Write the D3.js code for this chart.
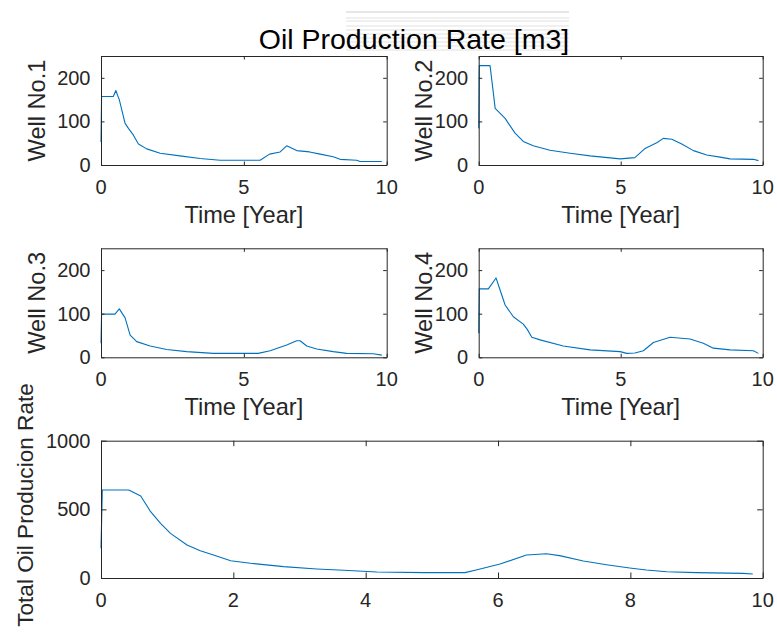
<!DOCTYPE html>
<html>
<head>
<meta charset="utf-8">
<script src="https://cdn.jsdelivr.net/npm/d3@7"></script>
<style>
  html, body { margin: 0; padding: 0; background: #fff; }
  svg { display: block; font-family: "Liberation Sans", Arial, Helvetica, sans-serif; }
</style>
</head>
<body>
<svg id="chart" width="777" height="633"></svg>
<script>
// Oil production rate per well, [time in years, rate in m3]
const well1 = [[0,53],[0.02,157],[0.43,157],[0.52,171],[0.58,160],[0.64,150],[0.70,134],[0.84,96],[0.96,84],[1.13,69],[1.31,48],[1.6,37],[2.07,27],[2.76,21],[3.47,15],[4.17,11],[5.57,11],[5.9,25],[6.27,30],[6.5,44],[6.85,33],[7.3,30],[7.67,25],[8.13,19],[8.37,13],[8.95,11],[9.07,8],[9.83,8]];
const well2 = [[0,84],[0.02,228],[0.4,228],[0.58,130],[0.93,107],[1.28,73],[1.57,54],[1.92,44],[2.51,34],[3.22,27],[3.92,21],[4.98,14],[5.5,17],[5.86,38],[6.27,51],[6.5,61],[6.8,59],[7.15,48],[7.56,33],[8.03,23],[8.5,18],[8.85,14],[9.67,13],[9.85,10]];
const well3 = [[0,32],[0.02,99],[0.49,99],[0.64,111],[0.84,91],[1.02,51],[1.25,36],[1.72,26],[2.3,18],[3.0,13],[3.93,9],[5.5,9],[5.92,15],[6.5,28],[6.85,38],[6.97,38],[7.2,26],[7.55,19],[8.13,13],[8.6,9],[9.53,8],[9.83,5]];
const well4 = [[0,55],[0.02,157],[0.34,157],[0.61,182],[0.75,155],[0.93,120],[1.22,93],[1.57,76],[1.71,64],[1.87,46],[2.16,40],[2.98,26],[3.92,17],[4.98,13],[5.21,9],[5.5,10],[5.8,15],[6.15,34],[6.74,46],[7.44,42],[7.91,32],[8.26,21],[8.85,17],[9.67,15],[9.85,9]];
// Field total
const total = [[0,216],[0.02,641],[0.42,641],[0.6,597],[0.75,483],[0.9,398],[1.05,325],[1.3,240],[1.5,199],[1.7,167],[1.96,126],[2.26,107],[2.76,83],[3.26,66],[3.67,56],[4.17,44],[4.89,39],[5.5,39],[5.67,58],[6.03,102],[6.43,167],[6.73,177],[6.93,163],[7.29,124],[7.64,97],[7.99,73],[8.24,58],[8.55,46],[9.0,39],[9.7,34],[9.85,29]];

const wellNames = ["Well No.1", "Well No.2", "Well No.3", "Well No.4"];
const wellXTicks = [0, 5, 10];
const wellYTicks = [0, 100, 200];
const totalXTicks = [0, 2, 4, 6, 8, 10];
const totalYTicks = [0, 500, 1000];
const titleText = "Oil Production Rate [m3]";
const xLabelText = "Time [Year]";
const totalYLabelText = "Total Oil Producion Rate";

const svg = d3.select("#chart");
svg.append("rect").attr("width", 777).attr("height", 633).attr("fill", "#fff");

const AX = "#262626";
const LINE = "#0072BD";
const LABEL_SIZE = 23.6;
const TICK_SIZE = 20;

// faint horizontal banding behind the figure title
const bandYs = [12, 18, 21, 26, 30, 34, 38, 42, 46, 50];
svg.append("g").selectAll("line").data(bandYs).join("line")
  .attr("x1", 346).attr("x2", 569)
  .attr("y1", d => d).attr("y2", d => d)
  .attr("stroke", (d, i) => i < 1 ? "#cdcdcd" : "#e2e2e2")
  .attr("stroke-width", 1.1);

svg.append("text")
  .attr("x", 414).attr("y", 49)
  .attr("text-anchor", "middle")
  .attr("font-size", 28.5)
  .attr("fill", "#000")
  .text(titleText);

function panel(opt) {
  const { x0, x1, y0, y1, data, xDomain, yDomain, xTicks, yTicks, yLabel, yLabelX, yLabelY, yLabelSize, xLabel, tickLen } = opt;
  const x = d3.scaleLinear().domain(xDomain).range([x0, x1]);
  const y = d3.scaleLinear().domain(yDomain).range([y1, y0]);
  const g = svg.append("g");

  // data line
  g.append("path")
    .datum(data)
    .attr("fill", "none")
    .attr("stroke", LINE)
    .attr("stroke-width", 1.1)
    .attr("stroke-linejoin", "round")
    .attr("d", d3.line().x(d => x(d[0])).y(d => y(d[1])));

  // axes with inward ticks on all four sides
  const mk = (axisFn, scale, ticks, tx, ty) => {
    const a = axisFn(scale).tickValues(ticks).tickSizeInner(-tickLen).tickSizeOuter(0).tickPadding(0);
    const ag = g.append("g").attr("transform", `translate(${tx},${ty})`).call(a);
    ag.select(".domain").attr("stroke", AX).attr("stroke-width", 1);
    ag.selectAll(".tick line").attr("stroke", AX).attr("stroke-width", 1);
    ag.selectAll(".tick text").remove();
    return ag;
  };
  mk(d3.axisBottom, x, xTicks, 0, y1);
  mk(d3.axisTop, x, xTicks, 0, y0);
  mk(d3.axisLeft, y, yTicks, x0, 0);
  mk(d3.axisRight, y, yTicks, x1, 0);

  // tick labels
  g.append("g").selectAll("text").data(xTicks).join("text")
    .attr("x", d => x(d)).attr("y", y1 + 28.5)
    .attr("text-anchor", "middle").attr("font-size", TICK_SIZE).attr("fill", AX)
    .text(d => d);
  g.append("g").selectAll("text").data(yTicks).join("text")
    .attr("x", x0 - 10.5).attr("y", d => y(d) + 7)
    .attr("text-anchor", "end").attr("font-size", TICK_SIZE).attr("fill", AX)
    .text(d => d);

  if (xLabel) {
    g.append("text")
      .attr("x", (x0 + x1) / 2).attr("y", y1 + 58)
      .attr("text-anchor", "middle").attr("font-size", LABEL_SIZE).attr("fill", AX)
      .text(xLabel);
  }
  const ly = yLabelY != null ? yLabelY : (y0 + y1) / 2;
  g.append("text")
    .attr("transform", `translate(${yLabelX},${ly}) rotate(-90)`)
    .attr("text-anchor", "middle").attr("font-size", yLabelSize || LABEL_SIZE).attr("fill", AX)
    .text(yLabel);
}

const wells = [well1, well2, well3, well4];
const cols = [{ x0: 101, x1: 386.7, lx: 45 }, { x0: 478.7, x1: 762.7, lx: 431.7 }];
const rows = [{ y0: 56, y1: 165 }, { y0: 248.3, y1: 357.3 }];
wells.forEach((w, i) => {
  const c = cols[i % 2], r = rows[Math.floor(i / 2)];
  panel({
    x0: c.x0, x1: c.x1, y0: r.y0, y1: r.y1,
    data: w, xDomain: [0, 10], yDomain: [0, 250],
    xTicks: wellXTicks, yTicks: wellYTicks,
    yLabel: wellNames[i], yLabelX: c.lx, xLabel: xLabelText, tickLen: 3.5
  });
});

panel({
  x0: 101, x1: 762.7, y0: 440.7, y1: 578,
  data: total, xDomain: [0, 10], yDomain: [0, 1000],
  xTicks: totalXTicks, yTicks: totalYTicks,
  yLabel: totalYLabelText, yLabelX: 33, yLabelY: 505, yLabelSize: 22.6,
  xLabel: null, tickLen: 5.5
});
</script>
</body>
</html>
